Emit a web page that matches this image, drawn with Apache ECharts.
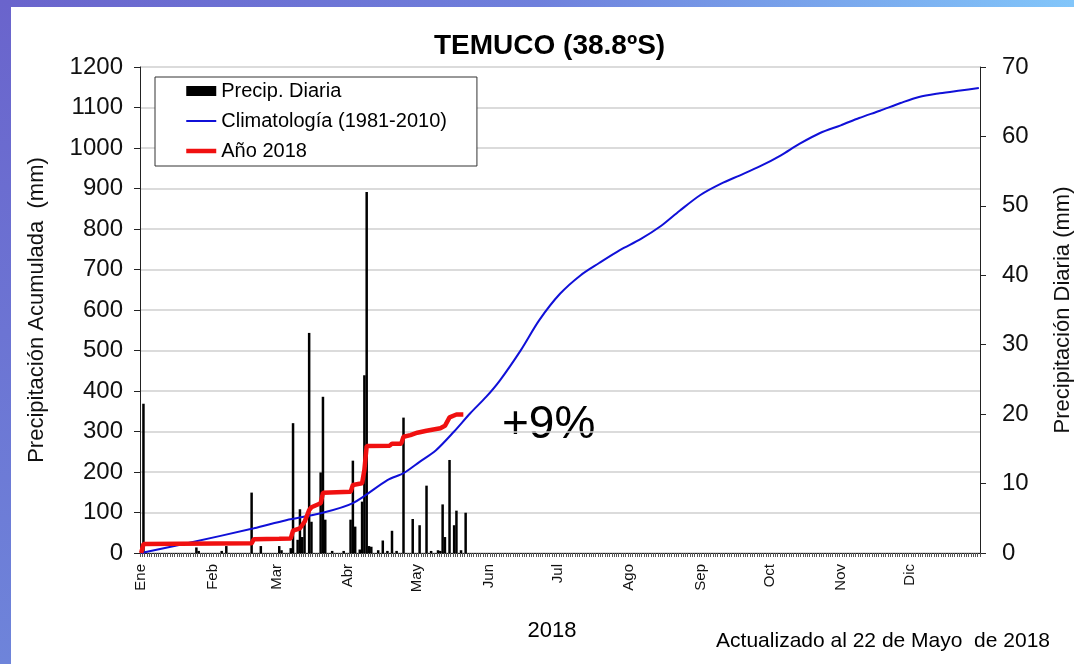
<!DOCTYPE html>
<html>
<head>
<meta charset="utf-8">
<title>Temuco precipitación</title>
<script src="https://cdn.jsdelivr.net/npm/echarts@6/dist/echarts.min.js"></script>
<style>
  html, body { margin: 0; padding: 0; background: #fff; }
  #chart { width: 1074px; height: 664px; }
</style>
</head>
<body>
<div id="chart"></div>
<script>
// meses (eje x diario, 365 días)
const monthNames = ['Ene', 'Feb', 'Mar', 'Abr', 'May', 'Jun', 'Jul', 'Ago', 'Sep', 'Oct', 'Nov', 'Dic']
const monthStart = [0, 31, 59, 90, 120, 151, 181, 212, 243, 273, 304, 334]

// precipitación diaria 2018 (día del año, mm)
const rainDay = [1, 24, 25, 35, 37, 48, 52, 60, 61, 65, 66, 68, 69, 70, 71, 73, 74, 78, 79, 80,
  83, 88, 91, 92, 93, 95, 96, 97, 98, 99, 100, 103, 105, 107, 109, 111, 114, 118, 121, 124,
  126, 129, 130, 131, 132, 134, 136, 137, 139, 141]
const rainMm = [21.5, 0.8, 0.3, 0.3, 1.0, 8.7, 1.0, 1.0, 0.4, 0.7, 18.7, 1.9, 6.3, 2.3, 4.5, 31.7, 4.5, 11.6, 22.5, 4.8,
  0.3, 0.3, 4.8, 13.3, 3.8, 0.5, 7.4, 25.6, 52.0, 1.0, 0.9, 0.4, 1.8, 0.3, 3.2, 0.3, 19.5, 4.9, 4.0, 9.7,
  0.3, 0.4, 0.3, 7.0, 2.3, 13.4, 4.0, 6.1, 0.4, 5.8]

// acumulado 2018 (día del año, mm)
const accDay = [0, 1, 48, 49, 60, 65, 66, 69, 71, 73, 74, 78, 79, 91, 92, 96, 97, 98, 108, 109,
  113, 114, 117, 120, 124, 130, 132, 134, 137, 140]
const accMm = [0, 22, 24, 34, 35, 36, 55, 61, 77, 106, 113, 123, 149, 151, 168, 172, 205, 264, 265, 270,
  270, 287, 291, 297, 302, 308, 314, 335, 342, 342]

// climatología 1981-2010 (día del año, mm acumulados)
const climDay = [0, 20, 49, 63, 78, 92, 107, 114, 121, 128, 136, 143, 150, 156, 165, 173, 182, 191,
  199, 208, 217, 226, 234, 243, 252, 260, 269, 278, 286, 295, 304, 312, 321, 330, 338, 347, 356, 364]
const climMm = [0, 24, 61, 81, 98, 123, 180, 197, 225, 253, 300, 345, 386, 427, 501, 575, 640, 686,
  716, 748, 775, 808, 845, 884, 912, 932, 955, 982, 1010, 1037, 1056, 1074, 1092, 1111, 1126, 1135, 1142, 1148]

const days = Array.from({ length: 365 }, (_, i) => String(i))
const pairs = (xs, ys) => xs.map((x, i) => [x, ys[i]])

const font = 'Arial, "Liberation Sans", sans-serif'

const chart = echarts.init(document.getElementById('chart'))

chart.setOption({
  animation: false,
  backgroundColor: '#fff',
  textStyle: { fontFamily: font },
  title: {
    text: 'TEMUCO (38.8ºS)',
    left: 429,
    top: 27,
    textStyle: { fontSize: 28, fontWeight: 'bold', color: '#000', fontFamily: font }
  },
  legend: {
    orient: 'vertical',
    left: 155,
    top: 77,
    padding: [4, 30, 5, 29],
    itemGap: 10,
    itemWidth: 30,
    itemHeight: 10,
    borderColor: '#333',
    borderWidth: 1,
    backgroundColor: '#fff',
    textStyle: { fontSize: 20, color: '#000', fontFamily: font },
    data: [
      { name: 'Precip. Diaria', icon: 'rect' },
      { name: 'Climatología (1981-2010)', itemStyle: { opacity: 0 }, lineStyle: { width: 2 } },
      { name: 'Año 2018', itemStyle: { opacity: 0 }, lineStyle: { width: 4.5 } }
    ]
  },
  grid: { left: 140, right: 94, top: 67, bottom: 111, outerBoundsMode: 'none', containLabel: false },
  xAxis: {
    type: 'category',
    data: days,
    name: '2018',
    nameLocation: 'middle',
    nameGap: 67,
    nameTextStyle: { fontSize: 22, color: '#000', padding: [0, 16, 0, 0] },
    axisLine: { lineStyle: { color: '#222', width: 1 } },
    axisTick: { show: true, interval: 0, length: 4, lineStyle: { color: '#555', width: 1 } },
    axisLabel: {
      interval: (idx) => monthStart.includes(idx),
      formatter: (val, idx) => monthNames[monthStart.indexOf(idx)] || '',
      rotate: 90,
      margin: 11,
      fontSize: 15,
      color: '#111'
    },
    splitLine: { show: false }
  },
  yAxis: [
    {
      type: 'value',
      min: 0,
      max: 1200,
      interval: 100,
      name: 'Precipitación Acumulada  (mm)',
      nameLocation: 'middle',
      nameGap: 92,
      nameTextStyle: { fontSize: 22, color: '#111' },
      axisLine: { show: true, lineStyle: { color: '#222' } },
      axisTick: { show: true, length: 6, lineStyle: { color: '#222' } },
      axisLabel: { fontSize: 24, color: '#111', margin: 17, formatter: (v) => String(v) },
      splitLine: { lineStyle: { color: '#cfcfcf', width: 1.5 } }
    },
    {
      type: 'value',
      min: 0,
      max: 70,
      interval: 10,
      name: 'Precipitación Diaria (mm)',
      nameLocation: 'middle',
      nameGap: 72,
      nameTextStyle: { fontSize: 22, color: '#111' },
      axisLine: { show: true, lineStyle: { color: '#222' } },
      axisTick: { show: true, length: 6, lineStyle: { color: '#222' } },
      axisLabel: { fontSize: 24, color: '#111', margin: 22, formatter: (v) => String(v) },
      splitLine: { show: false }
    }
  ],
  graphic: [
    {
      type: 'rect', z: -10, silent: true,
      shape: { x: 0, y: 0, width: 1074, height: 7 },
      style: { fill: new echarts.graphic.LinearGradient(0, 0, 1, 0, [
        { offset: 0, color: '#6a64cc' }, { offset: 0.5, color: '#6f80dc' }, { offset: 1, color: '#82c6fa' }
      ]) }
    },
    {
      type: 'rect', z: -10, silent: true,
      shape: { x: 0, y: 0, width: 11, height: 664 },
      style: { fill: new echarts.graphic.LinearGradient(0, 0, 0, 1, [
        { offset: 0, color: '#6a64cc' }, { offset: 1, color: '#6e84da' }
      ]) }
    },
    {
      type: 'text', left: 502, top: 402,
      style: { text: '+9%', fontSize: 46, fill: '#000', fontFamily: font }
    },
    {
      type: 'text', right: 24, top: 631,
      style: { text: 'Actualizado al 22 de Mayo  de 2018', fontSize: 21, fill: '#000', fontFamily: font }
    }
  ],
  series: [
    {
      name: 'Precip. Diaria',
      type: 'bar',
      yAxisIndex: 1,
      barWidth: 2.5,
      itemStyle: { color: '#000' },
      data: pairs(rainDay, rainMm),
      z: 2
    },
    {
      name: 'Climatología (1981-2010)',
      type: 'line',
      yAxisIndex: 0,
      symbol: 'none',
      smooth: 0.3,
      lineStyle: { color: '#1010d8', width: 2 },
      itemStyle: { color: '#1010d8' },
      data: pairs(climDay, climMm),
      z: 3
    },
    {
      name: 'Año 2018',
      type: 'line',
      yAxisIndex: 0,
      symbol: 'none',
      lineStyle: { color: '#f01010', width: 4.5 },
      itemStyle: { color: '#f01010' },
      data: pairs(accDay, accMm),
      z: 4
    }
  ]
})
</script>
</body>
</html>
